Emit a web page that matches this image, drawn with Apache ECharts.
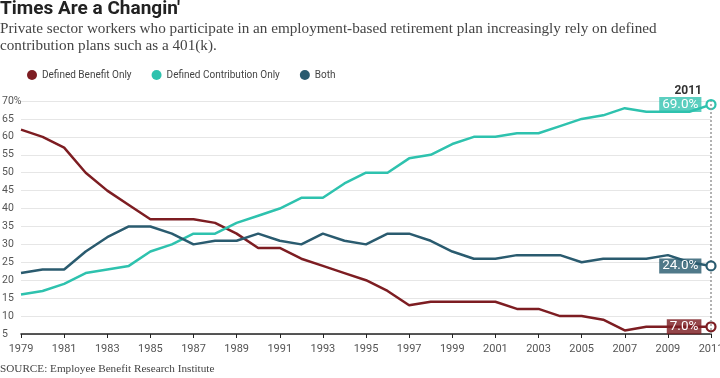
<!DOCTYPE html>
<html>
<head>
<meta charset="utf-8">
<script src="https://cdn.jsdelivr.net/npm/echarts@6/dist/echarts.min.js"></script>
<style>html,body{margin:0;padding:0;background:#fff}#chart{width:720px;height:378px}</style>
</head>
<body>
<div id="chart"></div>
<script>
const years = ['1979','1980','1981','1982','1983','1984','1985','1986','1987','1988','1989','1990','1991','1992','1993','1994','1995','1996','1997','1998','1999','2000','2001','2002','2003','2004','2005','2006','2007','2008','2009','2010','2011'];
const definedBenefit = [62,60,57,50,45,41,37,37,37,36,33,29,29,26,24,22,20,17,13,14,14,14,14,12,12,10,10,9,6,7,7,7,7];
const definedContribution = [16,17,19,22,23,24,28,30,33,33,36,38,40,43,43,47,50,50,54,55,58,60,60,61,61,63,65,66,68,67,67,67,69];
const both = [22,23,23,28,32,35,35,33,30,31,31,33,31,30,33,31,30,33,33,31,28,26,26,27,27,27,25,26,26,26,27,25,24];
const seriesNames = ['Defined Benefit Only','Defined Contribution Only','Both'];
const yTicks = [5,10,15,20,25,30,35,40,45,50,55,60,65,70];

const colors = ['#7d1d22','#2ec2ae','#2a5b6f'];
const boxColors = ['rgba(125,29,34,0.82)','rgba(46,194,174,0.78)','rgba(42,91,111,0.82)'];
const SANS = 'Roboto, "DejaVu Sans", sans-serif';
const SERIF = '"Liberation Serif", "DejaVu Serif", serif';

function buildData(arr, idx) {
  return arr.map((v, i) => {
    if (i !== arr.length - 1) return v;
    return {
      value: v,
      symbol: 'circle',
      symbolSize: 9,
      itemStyle: { color: '#fff', borderColor: colors[idx], borderWidth: 2.2 },
      label: {
        show: true,
        position: 'left',
        distance: 4,
        formatter: (p) => p.value.toFixed(1) + '%',
        backgroundColor: boxColors[idx],
        color: '#fff',
        fontFamily: SANS,
        fontSize: 13.5,
        padding: [1, 3, 0, 3]
      }
    };
  });
}

const allSeries = [definedBenefit, definedContribution, both].map((arr, idx) => {
  const s = {
    name: seriesNames[idx],
    type: 'line',
    data: buildData(arr, idx),
    symbol: 'none',
    showSymbol: true,
    showAllSymbol: true,
    lineStyle: { color: colors[idx], width: 2.5 },
    itemStyle: { color: colors[idx] },
    z: 3 + idx
  };
  if (idx === 0) {
    s.markLine = {
      silent: true,
      symbol: 'none',
      lineStyle: { type: [2, 2], color: '#999', width: 1.5 },
      label: {
        show: true,
        position: 'end',
        formatter: years[years.length - 1],
        fontFamily: SANS,
        fontWeight: 'bold',
        fontSize: 12,
        color: '#333',
        align: 'right',
        padding: [0, 9, 0, 0],
        distance: 4
      },
      data: [{ xAxis: years[years.length - 1] }]
    };
  }
  return s;
});

const chart = echarts.init(document.getElementById('chart'), null, { renderer: 'canvas' });
chart.setOption({
  animation: false,
  backgroundColor: '#fff',
  color: colors,
  title: [
    {
      text: "Times Are a Changin'",
      left: 0, top: 0, padding: 0,
      textStyle: { fontFamily: SANS, fontSize: 19, fontWeight: 'bold', color: '#222' }
    },
    {
      text: 'Private sector workers who participate in an employment-based retirement plan increasingly rely on defined\ncontribution plans such as a 401(k).',
      left: 0, top: 21, padding: 0,
      textStyle: { fontFamily: SERIF, fontSize: 15.2, fontWeight: 'normal', color: '#444', lineHeight: 17 }
    },
    {
      text: 'SOURCE: Employee Benefit Research Institute',
      left: 0, top: 364, padding: 0,
      textStyle: { fontFamily: SERIF, fontSize: 11.2, fontWeight: 'normal', color: '#444' }
    }
  ],
  legend: {
    left: 27, top: 70, padding: 0,
    icon: 'circle', itemWidth: 10, itemHeight: 10, itemGap: 20,
    textStyle: { fontFamily: SANS, fontSize: 10, color: '#444' },
    data: seriesNames
  },
  grid: { left: 21, right: 9, top: 101, bottom: 44, containLabel: false, outerBoundsMode: 'none' },
  xAxis: {
    type: 'category',
    data: years,
    boundaryGap: false,
    axisLine: { lineStyle: { color: '#222', width: 1.5 } },
    axisTick: { show: true, interval: 1, length: 4, lineStyle: { color: '#222', width: 1 } },
    axisLabel: { interval: 1, fontFamily: SANS, fontSize: 11, color: '#555', margin: 10 },
    splitLine: { show: false }
  },
  yAxis: {
    type: 'value',
    min: yTicks[0], max: yTicks[yTicks.length - 1], interval: 5,
    axisLine: { show: false },
    axisTick: { show: false },
    axisLabel: {
      align: 'left', margin: 19, fontFamily: SANS, fontSize: 10.5, color: '#555',
      formatter: (v) => v === yTicks[yTicks.length - 1] ? v + '%' : String(v)
    },
    splitLine: { lineStyle: { color: '#e6e6e6', width: 1 } }
  },
  series: allSeries
});
</script>
</body>
</html>
